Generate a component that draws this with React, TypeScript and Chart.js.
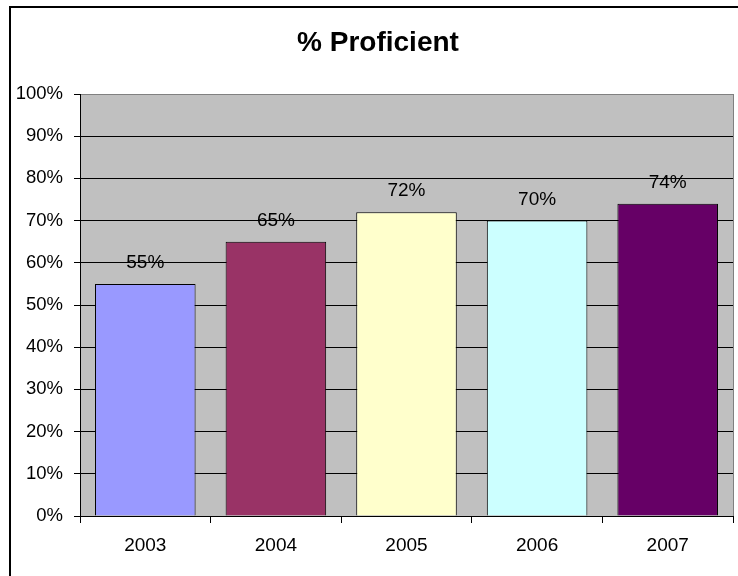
import React, { useEffect, useRef } from "react";
import { Chart, registerables } from "chart.js";

Chart.register(...registerables);

const categories: string[] = ["2003", "2004", "2005", "2006", "2007"];
const proficient: number[] = [55, 65, 72, 70, 74];
const barColors: string[] = ["#9999FF", "#993366", "#FFFFCC", "#CCFFFF", "#660066"];
const titleText = "% Proficient";

const FONT = "Arial, 'Liberation Sans', sans-serif";

const plotBg = {
  id: "plotBg",
  beforeDraw(chart: any) {
    const { ctx, chartArea: a } = chart;
    ctx.save();
    ctx.fillStyle = "#C0C0C0";
    ctx.fillRect(a.left, a.top, a.right - a.left, a.bottom - a.top);
    ctx.restore();
  },
  afterDraw(chart: any) {
    const { ctx, chartArea: a } = chart;
    ctx.save();
    // plot area right border (gray)
    ctx.strokeStyle = "#808080";
    ctx.lineWidth = 1;
    ctx.beginPath();
    ctx.moveTo(a.right + 0.5, a.top);
    ctx.lineTo(a.right + 0.5, a.bottom);
    ctx.stroke();
    // chart title
    ctx.fillStyle = "#000";
    ctx.font = `bold 28px ${FONT}`;
    ctx.textAlign = "center";
    ctx.textBaseline = "middle";
    ctx.fillText(titleText, 378, 43);
    // outer chart border
    ctx.strokeStyle = "#000000";
    ctx.lineWidth = 2;
    ctx.strokeRect(10, 7, 1000, 1000);
    ctx.restore();
  },
};

const valueLabels = {
  id: "valueLabels",
  afterDatasetsDraw(chart: any) {
    const { ctx } = chart;
    const meta = chart.getDatasetMeta(0);
    const data = chart.data.datasets[0].data as number[];
    ctx.save();
    ctx.fillStyle = "#000";
    ctx.font = `19px ${FONT}`;
    ctx.textAlign = "center";
    ctx.textBaseline = "middle";
    meta.data.forEach((el: any, i: number) => {
      ctx.fillText(`${data[i]}%`, el.x, el.y - 21);
    });
    ctx.restore();
  },
};

export default function App() {
  const ref = useRef<HTMLCanvasElement | null>(null);
  useEffect(() => {
    if (!ref.current) return;
    const chart = new Chart(ref.current, {
      type: "bar",
      data: {
        labels: categories,
        datasets: [
          {
            label: titleText,
            data: proficient,
            backgroundColor: barColors,
            borderColor: "#000000",
            borderWidth: 1,
            categoryPercentage: 1,
            barPercentage: 0.77,
          },
        ],
      },
      options: {
        animation: false,
        responsive: false,
        layout: { padding: { left: 0, right: 5, top: 94, bottom: 0 } },
        plugins: {
          legend: { display: false },
          tooltip: { enabled: false },
          title: { display: false },
        },
        scales: {
          x: {
            grid: {
              display: true,
              drawOnChartArea: false,
              drawTicks: true,
              tickLength: 7,
              color: "#000",
              offset: true,
            },
            border: { display: true, color: "#000", width: 1 },
            ticks: { color: "#000", font: { family: FONT, size: 19 }, padding: 11 },
            afterFit: (s: any) => {
              s.height = 60;
            },
          },
          y: {
            min: 0,
            max: 100,
            ticks: {
              stepSize: 10,
              color: "#000",
              font: { family: FONT, size: 18.5 },
              padding: 11,
              callback: (v: any) => `${v}%`,
            },
            grid: {
              color: (c: any) => (c.tick && c.tick.value === 100 ? "#808080" : "#000"),
              tickColor: "#000",
              tickLength: 6,
              lineWidth: 1,
            },
            border: { display: true, color: "#000", width: 1 },
            afterFit: (s: any) => {
              s.width = 80;
            },
          },
        },
      },
      plugins: [plotBg, valueLabels],
    });
    return () => chart.destroy();
  }, []);
  return (
    <div style={{ position: "fixed", left: 0, top: 0, width: 738, height: 576, background: "#fff" }}>
      <canvas ref={ref} width={738} height={576} />
    </div>
  );
}
